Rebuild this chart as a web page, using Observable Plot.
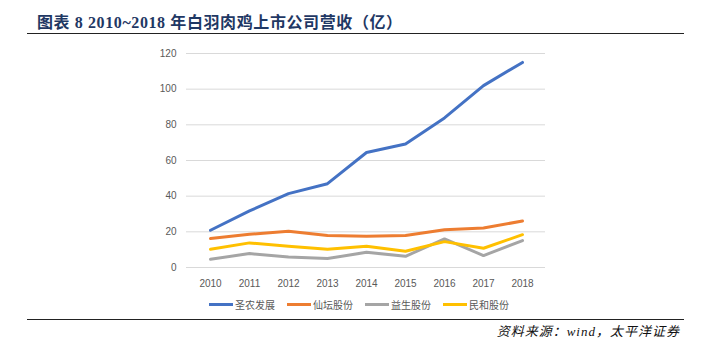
<!DOCTYPE html>
<html>
<head>
<meta charset="utf-8">
<script src="https://cdn.jsdelivr.net/npm/d3@7"></script>
<script src="https://cdn.jsdelivr.net/npm/@observablehq/plot@0.6"></script>
<style>
  html, body { margin: 0; padding: 0; background: #fff; }
  body { width: 701px; height: 360px; position: relative; overflow: hidden; }
  #title { position: absolute; left: 37px; top: 14px; font-family: "Liberation Serif", "Noto Sans CJK SC", serif; font-weight: bold; font-size: 16px; letter-spacing: 0.6px; color: #1f3864; white-space: nowrap; line-height: 18px; }
  #topline { position: absolute; left: 27px; top: 33px; width: 657px; height: 0; border-top: 1.5px solid #222; }
  #chart { position: absolute; left: 0; top: 40px; }
  #legend { position: absolute; left: 209px; top: 297px; display: flex; align-items: center; font-family: "Noto Sans CJK SC", sans-serif; font-size: 10px; color: #595959; white-space: nowrap; }
  #legend .item { display: flex; align-items: center; margin-right: 12px; }
  #legend .sw { width: 24px; height: 3px; margin-right: 2px; }
  #bottomline { position: absolute; left: 27px; top: 319px; width: 657px; height: 0; border-top: 1.5px solid #222; }
  #source { position: absolute; right: 21px; top: 321px; font-family: "Liberation Serif", "Noto Sans CJK SC", serif; font-style: italic; font-size: 13px; letter-spacing: 1px; color: #111; white-space: nowrap; }
</style>
</head>
<body>
<div id="title">图表 8 2010~2018 年白羽肉鸡上市公司营收（亿）</div>
<div id="topline"></div>
<div id="chart"></div>
<div id="legend"></div>
<div id="bottomline"></div>
<div id="source">资料来源：wind，太平洋证券</div>
<script>
const years = ["2010","2011","2012","2013","2014","2015","2016","2017","2018"];
const seriesNames = ["圣农发展","仙坛股份","益生股份","民和股份"];
const seriesColors = ["#4472c4","#ed7d31","#a5a5a5","#ffc000"];
const shengnong = [20.9, 31.7, 41.4, 47.0, 64.5, 69.3, 83.9, 102.0, 115.0];
const xiantan   = [16.2, 18.6, 20.3, 17.9, 17.5, 17.9, 21.2, 22.1, 26.1];
const yisheng   = [4.6, 7.8, 5.9, 5.0, 8.5, 6.3, 16.0, 6.7, 15.1];
const minhe     = [10.2, 13.8, 11.9, 10.2, 11.9, 9.1, 14.5, 10.8, 18.4];
const yTicks = [0, 20, 40, 60, 80, 100, 120];

const seriesValues = [shengnong, xiantan, yisheng, minhe];
const rows = [];
seriesNames.forEach((name, i) => {
  years.forEach((yr, j) => rows.push({series: name, year: yr, value: seriesValues[i][j]}));
});

const chart = Plot.plot({
  width: 701,
  height: 275,
  marginLeft: 186,
  marginRight: 156,
  marginTop: 13,
  marginBottom: 48,
  style: {fontFamily: "'Liberation Sans', Arial, sans-serif", fontSize: "10px", color: "#595959", background: "transparent"},
  x: {type: "point", domain: years, padding: 0.5, label: null, tickSize: 0, tickPadding: 12},
  y: {domain: [0, 120], ticks: yTicks, label: null, tickSize: 0, tickPadding: 10},
  color: {domain: seriesNames, range: seriesColors},
  marks: [
    Plot.ruleY(yTicks, {stroke: "#d9d9d9", strokeWidth: 1}),
    Plot.axisY({ticks: yTicks, tickSize: 0, tickPadding: 10, label: null, fill: "#595959"}),
    Plot.axisX({tickSize: 0, tickPadding: 12, label: null, fill: "#595959"}),
    Plot.line(rows, {x: "year", y: "value", z: "series", stroke: "series", strokeWidth: 3, strokeLinejoin: "round", strokeLinecap: "round"})
  ]
});
document.getElementById("chart").appendChild(chart);

const legend = document.getElementById("legend");
seriesNames.forEach((name, i) => {
  const item = document.createElement("div");
  item.className = "item";
  const sw = document.createElement("div");
  sw.className = "sw";
  sw.style.background = seriesColors[i];
  const t = document.createElement("span");
  t.textContent = name;
  item.appendChild(sw);
  item.appendChild(t);
  legend.appendChild(item);
});
</script>
</body>
</html>
